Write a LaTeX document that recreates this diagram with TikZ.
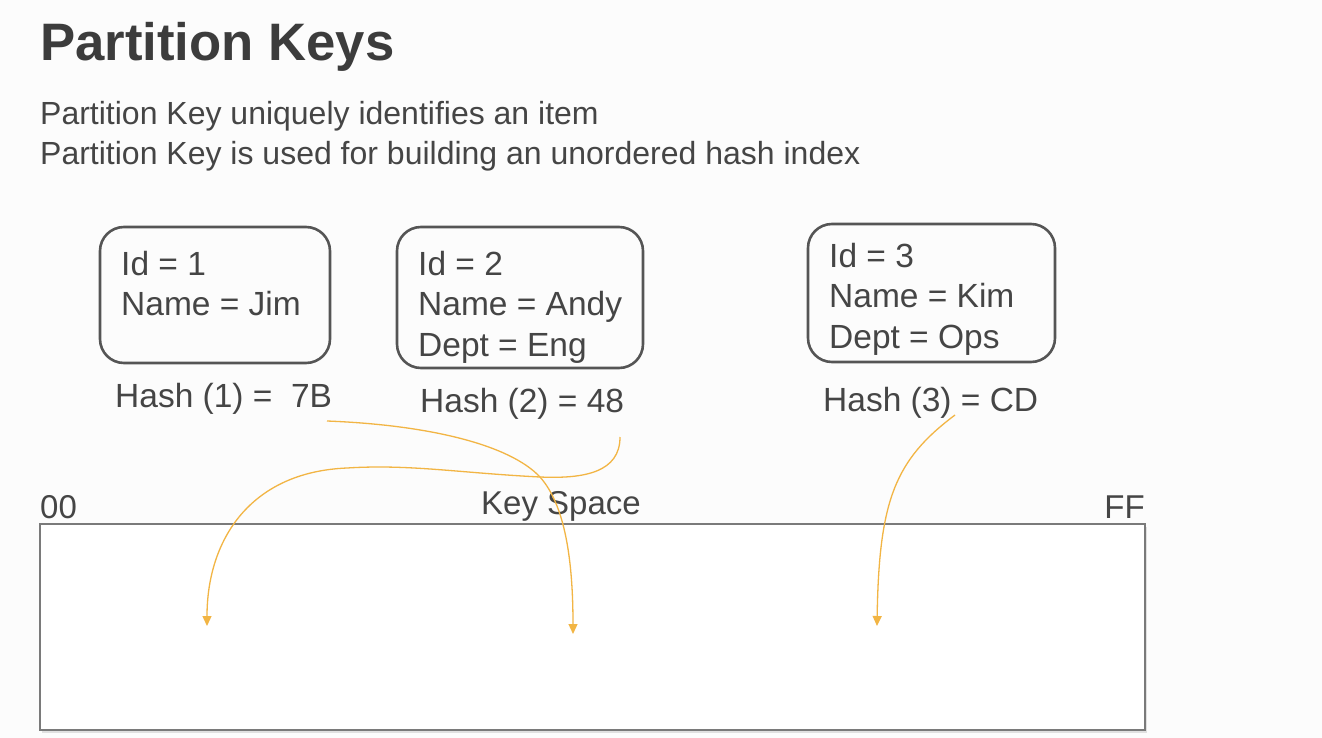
\documentclass[tikz,border=0pt]{standalone}
\usepackage{fontspec}
\setmainfont{Liberation Sans}
\usetikzlibrary{arrows.meta}
\definecolor{titlegray}{HTML}{3C3C3C}
\definecolor{textgray}{HTML}{454545}
\definecolor{boxgray}{HTML}{555555}
\definecolor{rectgray}{HTML}{7A7A7A}
\definecolor{arrowor}{HTML}{F2B544}
\tikzset{
  titletext/.style={anchor=base west, inner sep=0pt, text=titlegray, font=\bfseries\fontsize{52.7}{60}\selectfont},
  bodytext/.style={anchor=base west, inner sep=0pt, text=textgray, font=\fontsize{32}{40}\selectfont},
  recbox/.style={draw=boxgray, line width=2.6pt, rounded corners=24pt, inner sep=0pt},
  rectext/.style={anchor=north west, inner sep=0pt, align=left, text=textgray, font=\fontsize{33.5}{40.5}\selectfont},
  hashtext/.style={anchor=base west, inner sep=0pt, text=textgray, font=\fontsize{33.5}{40}\selectfont},
  spacetext/.style={anchor=base west, inner sep=0pt, text=textgray, font=\fontsize{33}{40}\selectfont},
  spacebox/.style={draw=rectgray, line width=1.6pt, fill=white, inner sep=0pt},
  hasharrow/.style={draw=arrowor, line width=1.3pt, -{Triangle[width=9pt,length=10pt]}}
}
\begin{document}
\begin{tikzpicture}[x=1pt,y=-1pt]
\useasboundingbox (0,0) rectangle (1322,738);
\fill[white!98!gray] (0,0) rectangle (1322,738);

% title and text
\node[titletext] (title) at (40,61) {Partition Keys};
\node[bodytext] (l1) at (40,125) {Partition Key uniquely identifies an item};
\node[bodytext] (l2) at (40,165) {Partition Key is used for building an unordered hash index};

% item boxes
\node[recbox, minimum width=230pt, minimum height=136pt] (b1) at (215,295) {};
\node[recbox, minimum width=246pt, minimum height=141pt] (b2) at (520,297.5) {};
\node[recbox, minimum width=247pt, minimum height=138pt] (b3) at (931.5,293) {};

\node[rectext] (t1) at (121,251) {Id = 1\\Name = Jim};
\node[rectext] (t2) at (418,251) {Id = 2\\Name = Andy\\Dept = Eng};
\node[rectext] (t3) at (829,243) {Id = 3\\Name = Kim\\Dept = Ops};

% hash labels
\node[hashtext] (h1) at (115,407) {Hash (1) = \ 7B};
\node[hashtext] (h2) at (420,412) {Hash (2) = 48};
\node[hashtext] (h3) at (823,411) {Hash (3) = CD};

% key space
\fill[black!12] (42,527) rectangle (1147,733);
\node[spacebox, minimum width=1105pt, minimum height=206pt] (ks) at (592.5,627) {};
\node[spacetext] (kslabel) at (481,514) {Key Space};
\node[spacetext] (k00) at (40,518) {00};
\node[spacetext, anchor=base east] (kff) at (1145,518) {FF};

% arrow endpoints
\coordinate (s1) at (327,421);
\coordinate (e1) at (573,634);
\coordinate (s2) at (620,437);
\coordinate (e2) at (207,626);
\coordinate (s3) at (955,415);
\coordinate (e3) at (877,626);

\draw[hasharrow] (s1) .. controls (430,425) and (510,445) .. (540,477)
                      .. controls (565,505) and (573,560) .. (e1);
\draw[hasharrow] (s2) .. controls (620,472) and (585,479) .. (540,477)
                      .. controls (460,473) and (410,464) .. (347,468)
                      .. controls (250,472) and (207,540) .. (e2);
\draw[hasharrow] (s3) .. controls (895,460) and (879,500) .. (e3);
\end{tikzpicture}
\end{document}
